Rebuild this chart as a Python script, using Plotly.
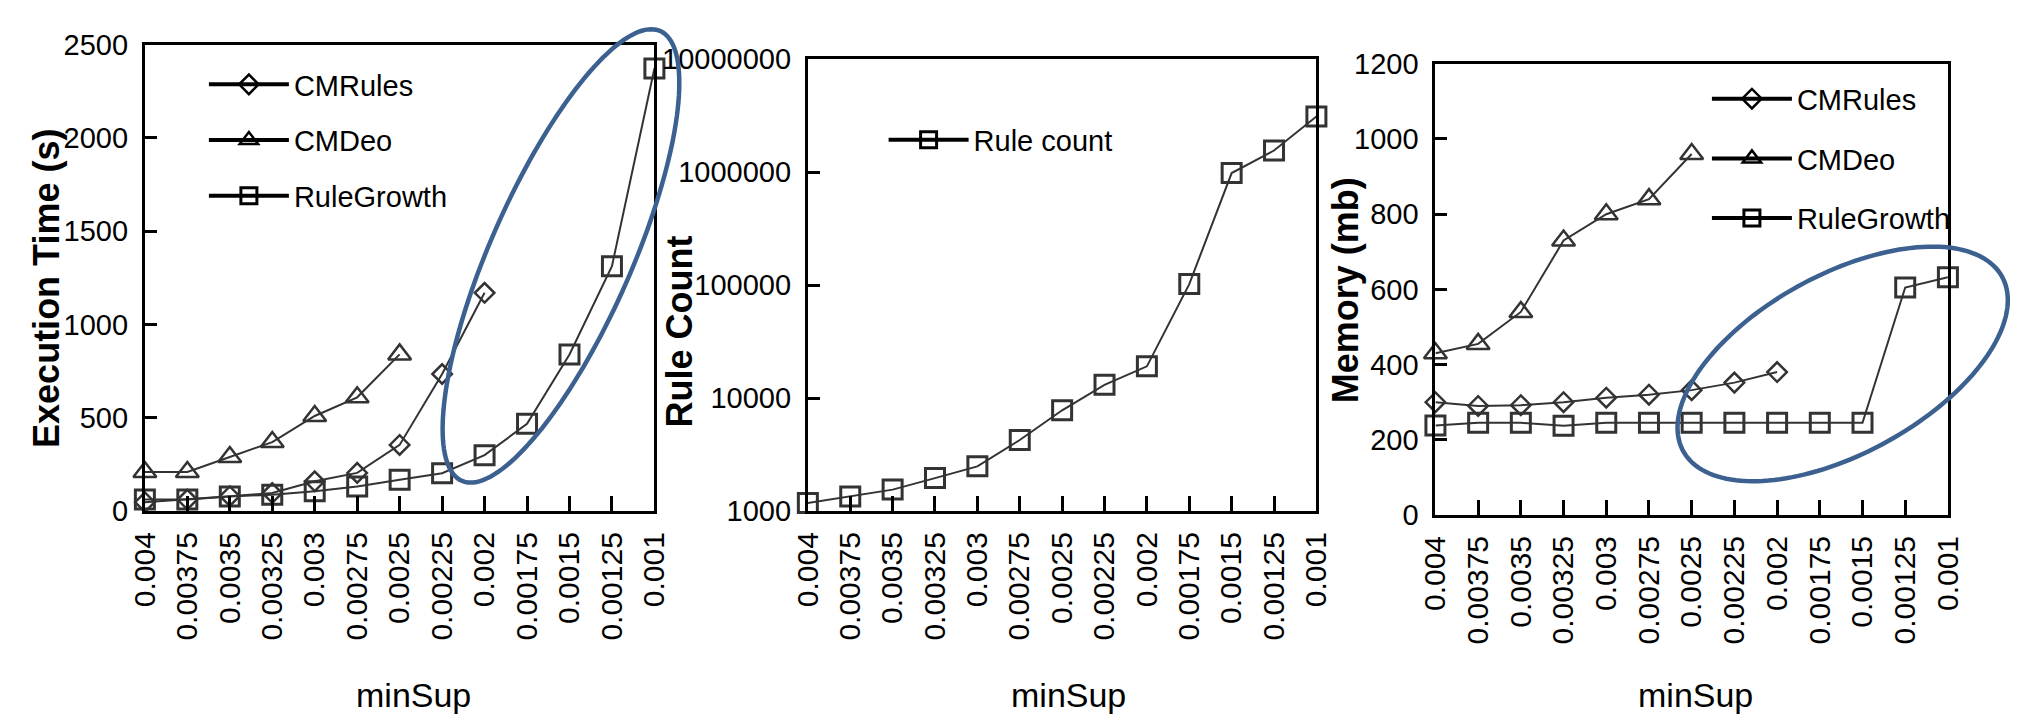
import math
import plotly.graph_objects as go

W, H = 2019, 725
FONT = "Liberation Sans, Arial, sans-serif"

# minimum support thresholds (x categories, shared by all three panels)
min_sup = ["0.004", "0.00375", "0.0035", "0.00325", "0.003", "0.00275", "0.0025",
           "0.00225", "0.002", "0.00175", "0.0015", "0.00125", "0.001"]

# execution time (s)
time_cmrules = [48, 62, 80, 97, 160, 205, 355, 735, 1170]
time_cmdeo = [210, 210, 290, 370, 510, 610, 840]
time_rulegrowth = [62, 62, 79, 88, 106, 132, 168, 203, 300, 468, 840, 1313, 2372]

# number of rules found
rule_count = [1180, 1350, 1550, 1960, 2490, 4260, 7800, 13100, 19100,
              102000, 980000, 1550000, 3100000]
rule_count_ticks = [1000, 10000, 100000, 1000000, 10000000]
rule_count_ticktext = ["1000", "10000", "100000", "1000000", "10000000"]

# memory (mb)
mem_cmrules = [300, 290, 292, 300, 312, 320, 332, 352, 380]
mem_cmdeo = [430, 455, 540, 730, 800, 840, 960]
mem_rulegrowth = [238, 245, 245, 237, 245, 245, 245, 245, 245, 245, 245, 605, 632]

# plot boxes in pixels: (left, top, right, bottom)
BOX1 = (130, 30, 648, 518)
BOX2 = (804, 45, 1321, 518)
BOX3 = (1442, 50, 1963, 522)


def px_x(x):
    return x / W


def px_y(y):
    return 1 - y / H


def dom(box):
    l, t, r, b = box
    return [px_x(l), px_x(r)], [px_y(b), px_y(t)]


STYLE = {
    "CMRules": dict(symbol="diamond-open", size=15, color="#5a5a5a", lw=2.5),
    "CMDeo": dict(symbol="triangle-up-open", size=20, color="#1a1a1a", lw=2.5),
    "RuleGrowth": dict(symbol="square-open", size=19, color="#000000", lw=3),
    "Rule count": dict(symbol="square-open", size=19, color="#000000", lw=3),
}


def marker_of(name):
    s = STYLE[name]
    return dict(symbol=s["symbol"], size=s["size"],
                line=dict(color=s["color"], width=s["lw"]))


def series(name, x, y, xa, ya):
    return go.Scatter(
        x=x, y=y, name=name, mode="lines+markers",
        xaxis=xa, yaxis=ya, showlegend=False, cliponaxis=False,
        line=dict(color="#333333", width=2),
        marker=marker_of(name),
    )


def legend_entry(name, xa, ya, legend):
    # empty trace that only supplies the legend sample (heavier key line)
    return go.Scatter(
        x=[None], y=[None], name=name, mode="lines+markers",
        xaxis=xa, yaxis=ya, legend=legend, legendgroup=legend + name,
        line=dict(color="black", width=4),
        marker=marker_of(name),
    )


fig = go.Figure()
fig.add_trace(series("CMRules", min_sup[:len(time_cmrules)], time_cmrules, "x", "y"))
fig.add_trace(series("CMDeo", min_sup[:len(time_cmdeo)], time_cmdeo, "x", "y"))
fig.add_trace(series("RuleGrowth", min_sup, time_rulegrowth, "x", "y"))

fig.add_trace(series("Rule count", min_sup, rule_count, "x2", "y2"))

fig.add_trace(series("CMRules", min_sup[:len(mem_cmrules)], mem_cmrules, "x3", "y3"))
fig.add_trace(series("CMDeo", min_sup[:len(mem_cmdeo)], mem_cmdeo, "x3", "y3"))
fig.add_trace(series("RuleGrowth", min_sup, mem_rulegrowth, "x3", "y3"))

for nm in ["CMRules", "CMDeo", "RuleGrowth"]:
    fig.add_trace(legend_entry(nm, "x", "y", "legend"))
fig.add_trace(legend_entry("Rule count", "x2", "y2", "legend2"))
for nm in ["CMRules", "CMDeo", "RuleGrowth"]:
    fig.add_trace(legend_entry(nm, "x3", "y3", "legend3"))

axis_base = dict(
    showline=True, mirror=True, linecolor="black", linewidth=3,
    showgrid=False, zeroline=False, ticks="inside", tickcolor="black",
    tickwidth=3,
)
xaxis_base = dict(axis_base, type="category", categoryorder="array",
                  categoryarray=min_sup, range=[0, len(min_sup) - 1],
                  tickangle=-90, ticklen=15, ticklabelstandoff=6,
                  tickfont=dict(family=FONT, size=30, color="black"))
yaxis_base = dict(axis_base, ticklen=12, ticklabelstandoff=8,
                  tickfont=dict(family=FONT, size=29, color="black"))

layout_axes = {}
for i, (box, yextra) in enumerate([
    (BOX1, dict(range=[0, 2500], dtick=500, tick0=0)),
    (BOX2, dict(type="log", range=[3, 7], tickvals=rule_count_ticks,
                ticktext=rule_count_ticktext)),
    (BOX3, dict(range=[0, 1200], dtick=200, tick0=0)),
], start=1):
    dx, dy = dom(box)
    sfx = "" if i == 1 else str(i)
    layout_axes["xaxis" + sfx] = dict(xaxis_base, domain=dx, anchor="y" + sfx)
    layout_axes["yaxis" + sfx] = dict(yaxis_base, domain=dy, anchor="x" + sfx, **yextra)

legend_base = dict(
    orientation="v", xanchor="left", yanchor="top", bgcolor="rgba(0,0,0,0)",
    font=dict(family=FONT, size=29, color="black"), itemwidth=80,
    tracegroupgap=15, borderwidth=0,
)

fig.update_layout(
    width=W, height=H,
    margin=dict(l=0, r=0, t=0, b=0),
    paper_bgcolor="white", plot_bgcolor="white",
    font=dict(family=FONT, color="black"),
    legend=dict(legend_base, x=px_x(190), y=px_y(45)),
    legend2=dict(legend_base, x=px_x(881), y=px_y(103)),
    legend3=dict(legend_base, x=px_x(1718), y=px_y(60), tracegroupgap=19),
    **layout_axes,
)

# axis titles
titles = [
    ("minSup", 403, 710, 0, dict(size=34)),
    ("minSup", 1069, 710, 0, dict(size=34)),
    ("minSup", 1706, 710, 0, dict(size=34)),
    ("<b>Execution Time (s)</b>", 30, 285, -90, dict(size=36)),
    ("<b>Rule Count</b>", 673, 330, -90, dict(size=36)),
    ("<b>Memory (mb)</b>", 1350, 287, -90, dict(size=36)),
]
for text, x, y, ang, f in titles:
    fig.add_annotation(
        text=text, x=px_x(x), y=px_y(y), xref="paper", yref="paper",
        xanchor="center", yanchor="middle", textangle=ang, showarrow=False,
        font=dict(family=FONT, color="black", **f),
    )


# highlight ellipses (center x, center y, semi-major, semi-minor, tilt in degrees)
def ellipse_path(cx, cy, a, b, ang_deg, n=160):
    t = math.radians(ang_deg)
    ux, uy = math.cos(t), -math.sin(t)
    vx, vy = math.sin(t), math.cos(t)
    pts = []
    for i in range(n):
        s = 2 * math.pi * i / n
        px = cx + a * math.cos(s) * ux + b * math.sin(s) * vx
        py = cy + a * math.cos(s) * uy + b * math.sin(s) * vy
        pts.append(f"{px_x(px):.5f},{px_y(py):.5f}")
    return "M " + " L ".join(pts) + " Z"


highlights = [
    (553, 251, 256, 72, 66.9),
    (1856, 364, 186, 93, 29.8),
]
for cx, cy, a, b, ang in highlights:
    fig.add_shape(type="path", path=ellipse_path(cx, cy, a, b, ang),
                  xref="paper", yref="paper",
                  line=dict(color="#3c6190", width=4.5), layer="above")

fig.write_html("out.html")
